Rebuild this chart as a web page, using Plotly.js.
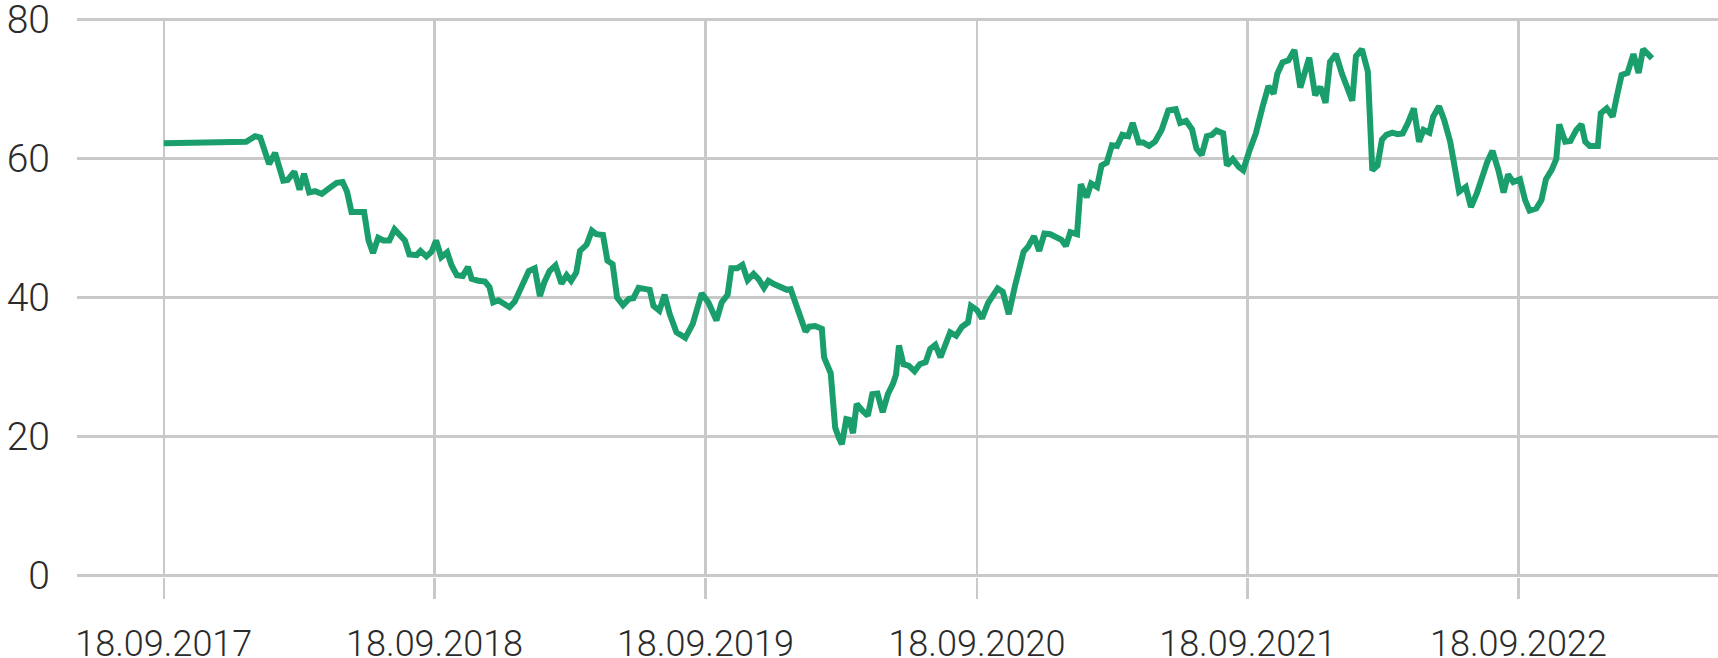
<!DOCTYPE html>
<html>
<head>
<meta charset="utf-8">
<script src="https://cdn.plot.ly/plotly-3.0.1.min.js"></script>
<style>
  html, body { margin: 0; padding: 0; background: #ffffff; }
  #chart { width: 1718px; height: 658px; }
</style>
</head>
<body>
<div id="chart"></div>
<script>
// Dates of the series points
const dates = [
  "2017-09-18","2018-01-07","2018-01-19","2018-01-26","2018-02-07","2018-02-15","2018-02-26","2018-03-04",
  "2018-03-13","2018-03-20","2018-03-26","2018-04-02","2018-04-10","2018-04-19","2018-04-30","2018-05-09",
  "2018-05-17","2018-05-23","2018-05-29","2018-06-07","2018-06-15","2018-06-21","2018-06-27","2018-07-04",
  "2018-07-11","2018-07-19","2018-07-26","2018-08-09","2018-08-15","2018-08-25","2018-08-30","2018-09-07",
  "2018-09-14","2018-09-20","2018-09-27","2018-10-05","2018-10-11","2018-10-18","2018-10-26","2018-11-02",
  "2018-11-07","2018-11-16","2018-11-25","2018-12-01","2018-12-06","2018-12-13","2018-12-21","2018-12-28",
  "2019-01-04","2019-01-13","2019-01-23","2019-01-31","2019-02-07","2019-02-13","2019-02-20","2019-02-28",
  "2019-03-08","2019-03-15","2019-03-21","2019-03-28","2019-04-02","2019-04-11","2019-04-18","2019-04-24",
  "2019-05-03","2019-05-09","2019-05-16","2019-05-22","2019-05-30","2019-06-07","2019-06-13","2019-06-20",
  "2019-06-28","2019-07-05","2019-07-10","2019-07-18","2019-07-25","2019-08-01","2019-08-10","2019-08-22",
  "2019-09-01","2019-09-13","2019-09-22","2019-10-03","2019-10-10","2019-10-18","2019-10-23","2019-10-31",
  "2019-11-07","2019-11-14","2019-11-22","2019-11-29","2019-12-06","2019-12-12","2019-12-20","2019-12-29",
  "2020-01-06","2020-01-11","2020-01-19","2020-01-25","2020-01-31","2020-02-05","2020-02-13","2020-02-22",
  "2020-02-25","2020-03-05","2020-03-11","2020-03-16","2020-03-20","2020-03-26","2020-03-30","2020-04-04",
  "2020-04-09","2020-04-17","2020-04-24","2020-04-30","2020-05-07","2020-05-14","2020-05-21","2020-05-28",
  "2020-06-01","2020-06-05","2020-06-11","2020-06-18","2020-06-26","2020-07-03","2020-07-11","2020-07-17",
  "2020-07-24","2020-07-31","2020-08-07","2020-08-13","2020-08-21","2020-08-29","2020-09-06","2020-09-10",
  "2020-09-18","2020-09-25","2020-10-03","2020-10-16","2020-10-23","2020-10-31","2020-11-08","2020-11-15",
  "2020-11-20","2020-11-26","2020-12-04","2020-12-11","2020-12-18","2020-12-26","2021-01-04","2021-01-10",
  "2021-01-16","2021-01-22","2021-01-31","2021-02-05","2021-02-13","2021-02-19","2021-02-27","2021-03-05",
  "2021-03-12","2021-03-19","2021-03-26","2021-04-02","2021-04-10","2021-04-16","2021-04-24","2021-04-30",
  "2021-05-08","2021-05-16","2021-05-25","2021-06-03","2021-06-13","2021-06-19","2021-06-27","2021-07-05",
  "2021-07-11","2021-07-18","2021-07-25","2021-08-01","2021-08-07","2021-08-16","2021-08-21","2021-08-29",
  "2021-09-06","2021-09-12","2021-09-20","2021-09-29","2021-10-08","2021-10-16","2021-10-23","2021-10-28",
  "2021-11-04","2021-11-12","2021-11-20","2021-11-28","2021-12-10","2021-12-18","2021-12-25","2022-01-01",
  "2022-01-07","2022-01-15","2022-01-23","2022-01-31","2022-02-06","2022-02-11","2022-02-19","2022-02-27",
  "2022-03-05","2022-03-12","2022-03-18","2022-03-24","2022-04-01","2022-04-08","2022-04-15","2022-04-22",
  "2022-04-30","2022-05-07","2022-05-13","2022-05-21","2022-05-26","2022-06-03","2022-06-10","2022-06-18",
  "2022-06-26","2022-06-30","2022-07-09","2022-07-16","2022-07-24","2022-08-01","2022-08-07","2022-08-14",
  "2022-08-22","2022-08-29","2022-09-04","2022-09-11","2022-09-20","2022-09-27","2022-10-03","2022-10-12",
  "2022-10-19","2022-10-25","2022-11-02","2022-11-08","2022-11-12","2022-11-20","2022-11-27","2022-12-05",
  "2022-12-12","2022-12-17","2022-12-23","2023-01-03","2023-01-07","2023-01-15","2023-01-23","2023-01-28",
  "2023-02-04","2023-02-12","2023-02-20","2023-02-27","2023-03-05","2023-03-10","2023-03-17"
];

// Series values
const values = [
  62.2,62.4,63.2,63.0,59.2,60.8,56.8,56.9,
  58.1,55.5,57.8,55.1,55.3,54.9,55.8,56.5,
  56.6,55.2,52.3,52.2,52.3,48.2,46.4,48.6,
  48.2,48.2,49.8,48.2,46.2,46.1,46.7,45.9,
  46.6,48.2,45.8,46.5,44.6,43.2,43.1,44.4,
  42.7,42.4,42.3,41.5,39.3,39.6,39.0,38.6,
  39.4,41.3,43.8,44.2,40.2,42.2,43.8,44.6,
  42.0,43.2,42.4,43.6,46.7,47.6,49.6,49.1,
  49.0,45.3,44.8,40.0,38.9,39.8,39.9,41.4,
  41.2,41.1,38.8,38.1,40.4,37.6,35.0,34.2,
  36.2,40.6,39.3,36.7,39.3,40.4,44.2,44.2,
  44.7,42.5,43.4,42.6,41.4,42.4,41.9,41.5,
  41.1,41.2,38.5,36.7,35.1,35.8,35.9,35.5,
  31.4,29.1,21.3,19.8,18.9,22.5,22.4,20.5,
  24.7,23.7,23.0,26.1,26.2,23.5,26.1,27.6,
  28.9,33.1,30.4,30.2,29.4,30.4,30.7,32.6,
  33.2,31.4,33.5,35.0,34.5,35.8,36.4,38.8,
  38.2,37.0,39.2,41.3,40.8,37.6,41.5,44.7,
  46.6,47.3,48.8,46.7,49.2,49.1,48.5,48.3,
  47.4,49.4,49.1,56.3,54.4,56.4,55.9,59.0,
  59.4,61.9,61.8,63.4,63.2,65.1,62.3,62.3,
  61.8,62.4,64.1,66.9,67.1,65.1,65.4,64.2,
  61.4,60.5,63.2,63.4,64.0,63.6,59.0,59.9,
  58.8,58.3,61.0,63.6,67.4,70.4,69.3,72.2,
  73.8,74.1,75.6,70.2,74.5,69.1,70.3,68.0,
  73.9,75.0,72.2,69.8,68.3,74.7,75.7,72.5,
  58.3,59.0,62.7,63.4,63.7,63.5,63.6,65.1,
  67.2,62.4,64.1,63.7,66.0,67.5,65.5,62.4,
  58.3,55.2,55.9,53.0,55.0,57.6,59.5,61.1,
  58.3,55.1,57.7,56.6,57.0,54.0,52.5,52.8,
  54.0,57.0,58.4,59.9,64.9,62.4,62.5,64.1,
  64.9,62.4,61.8,61.8,66.5,67.2,66.0,68.6,
  72.0,72.3,75.0,72.3,75.7,75.2,74.4
];

// Axis ticks
const xTickVals = ["2017-09-18","2018-09-18","2019-09-18","2020-09-18","2021-09-18","2022-09-18"];
const xTickText = ["18.09.2017","18.09.2018","18.09.2019","18.09.2020","18.09.2021","18.09.2022"];
const yTickVals = [0, 20, 40, 60, 80];
const yTickText = ["0", "20", "40", "60", "80"];

const gridColor = "#c9c9c9";
const fontFamily = "Roboto, 'Open Sans', sans-serif";
const xFont = { family: fontFamily, size: 36, color: "#2b2b2b", weight: 300 };
const yFont = { family: fontFamily, size: 39, color: "#2b2b2b", weight: 300 };

const trace = {
  x: dates,
  y: values,
  type: "scatter",
  mode: "lines",
  line: { color: "#1a9e6b", width: 6 },
  hoverinfo: "skip"
};

const layout = {
  width: 1718,
  height: 658,
  margin: { l: 77, r: 0, t: 17.6, b: 81.3 },
  paper_bgcolor: "#ffffff",
  plot_bgcolor: "#ffffff",
  showlegend: false,
  font: xFont,
  xaxis: {
    type: "date",
    range: ["2017-05-24", "2023-06-14"],
    tickmode: "array",
    tickvals: xTickVals,
    ticktext: xTickText,
    showgrid: true,
    gridcolor: gridColor,
    gridwidth: 2.5,
    ticks: "outside",
    ticklen: 21.4,
    tickwidth: 2.5,
    tickcolor: gridColor,
    ticklabelstandoff: 13,
    ticklabeloverflow: "allow",
    tickfont: xFont,
    zeroline: false,
    showline: false,
    fixedrange: true
  },
  yaxis: {
    range: [-0.2, 80.2],
    tickmode: "array",
    tickvals: yTickVals,
    ticktext: yTickText,
    showgrid: true,
    gridcolor: gridColor,
    gridwidth: 2.5,
    zeroline: true,
    zerolinecolor: gridColor,
    zerolinewidth: 2.5,
    ticks: "",
    ticklabelstandoff: 26,
    ticklabeloverflow: "allow",
    tickfont: yFont,
    showline: false,
    fixedrange: true
  }
};

Plotly.newPlot("chart", [trace], layout, { displayModeBar: false, staticPlot: true });
</script>
</body>
</html>
